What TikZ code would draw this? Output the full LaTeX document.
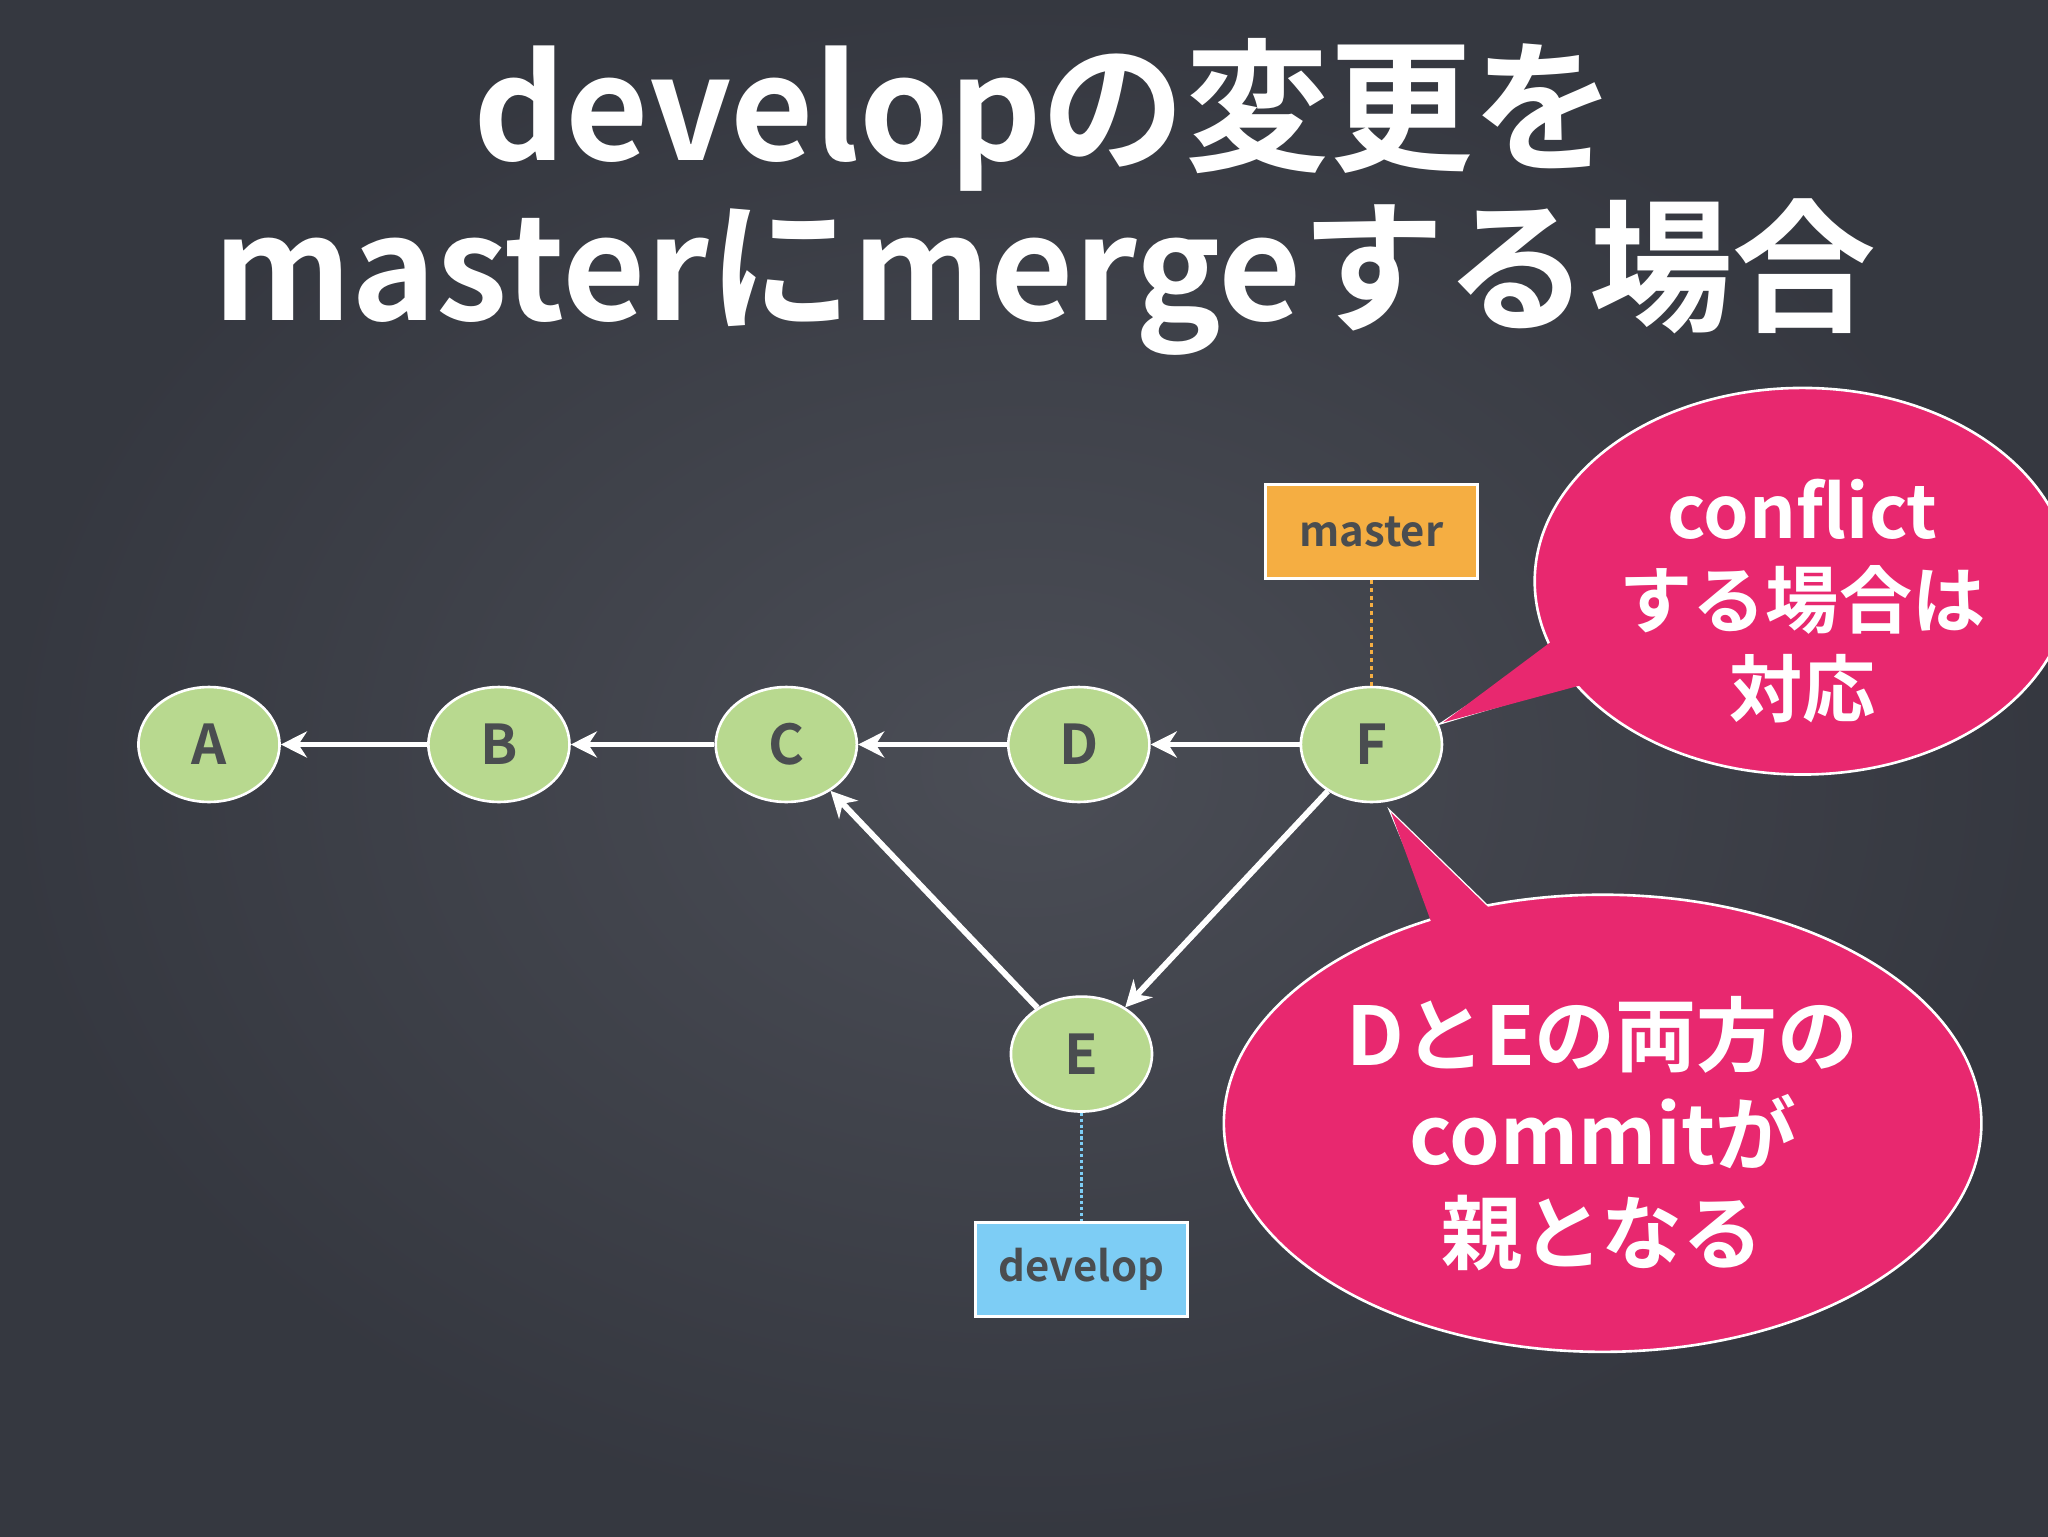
\documentclass[tikz,border=0pt]{standalone}
\usepackage{fontspec}
\setmainfont{Noto Sans CJK JP}[BoldFont={* Bold}]
\usetikzlibrary{shapes.geometric,arrows.meta}
\definecolor{bg}{HTML}{3B3E47}
\definecolor{nodegreen}{HTML}{B8D98F}
\definecolor{txtgray}{HTML}{4A4D50}
\definecolor{morange}{HTML}{F5AE42}
\definecolor{dblue}{HTML}{7DCDF5}
\definecolor{pink}{HTML}{E8286F}
\tikzset{
 commit/.style={ellipse,draw=white,line width=2pt,fill=nodegreen,minimum width=108pt,minimum height=88pt,inner sep=0pt,font=\fontsize{42}{42}\selectfont\bfseries,text=txtgray},
 arr/.style={white,line width=4.5pt,-{Stealth[length=20pt,width=20pt]}},
 branch/.style={draw=white,line width=2pt,minimum width=162pt,minimum height=72pt,inner sep=0pt,font=\fontsize{32}{32}\selectfont\bfseries,text=txtgray},
 bubble/.style={fill=pink,draw=white,line width=2pt},
 btext/.style={align=center,text=white,font=\fontsize{56}{68}\selectfont\bfseries},
}
\begin{document}
\begin{tikzpicture}[x=1pt,y=-1pt]
\shade[inner color=bg!92!white,outer color=bg!90!black] (0,0) rectangle (1568,1176);
\useasboundingbox (0,0) rectangle (1568,1176);
\node[text=white,font=\fontsize{110}{110}\selectfont\bfseries] (t1) at (800,88) {developの変更を};
\node[text=white,font=\fontsize{110}{110}\selectfont\bfseries] (t2) at (800,212) {masterにmergeする場合};
\node[commit] (A) at (160,570) {A};
\node[commit] (B) at (382,570) {B};
\node[commit] (C) at (602,570) {C};
\node[commit] (D) at (826,570) {D};
\node[commit] (F) at (1050,570) {F};
\node[commit] (E) at (828,807) {E};
\draw[arr] (B) -- (A);
\draw[arr] (C) -- (B);
\draw[arr] (D) -- (C);
\draw[arr] (F) -- (D);
\draw[arr] (E) -- (C);
\draw[arr] (F) -- (E);
\node[branch,fill=morange] (m) at (1050,407) {master};
\node[branch,fill=dblue] (dv) at (828,972) {develop};
\draw[morange,line width=2.5pt,dashed] (m) -- (F);
\draw[dblue,line width=2.5pt,dotted] (E) -- (dv);
% bubble 1
\coordinate (p1) at (1105,553);
\draw[bubble] (p1) -- (1215,520) -- (1200,490) -- cycle;
\draw[bubble] (1380,445) ellipse [x radius=205, y radius=148];
\fill[pink] (p1) -- (1220,522) -- (1196,485) -- cycle;
\node[btext] (c1) at (1380,460) {conflict\\する場合は\\対応};
% bubble 2
\coordinate (p2) at (1065,622);
\draw[bubble] (p2) -- (1100,705) -- (1140,695) -- cycle;
\draw[bubble] (1227,860) ellipse [x radius=290, y radius=175];
\fill[pink] (p2) -- (1098,712) -- (1145,700) -- cycle;
\node[btext,font=\fontsize{62}{76}\selectfont\bfseries] (c2) at (1227,868) {DとEの両方の\\commitが\\親となる};
\end{tikzpicture}
\end{document}
